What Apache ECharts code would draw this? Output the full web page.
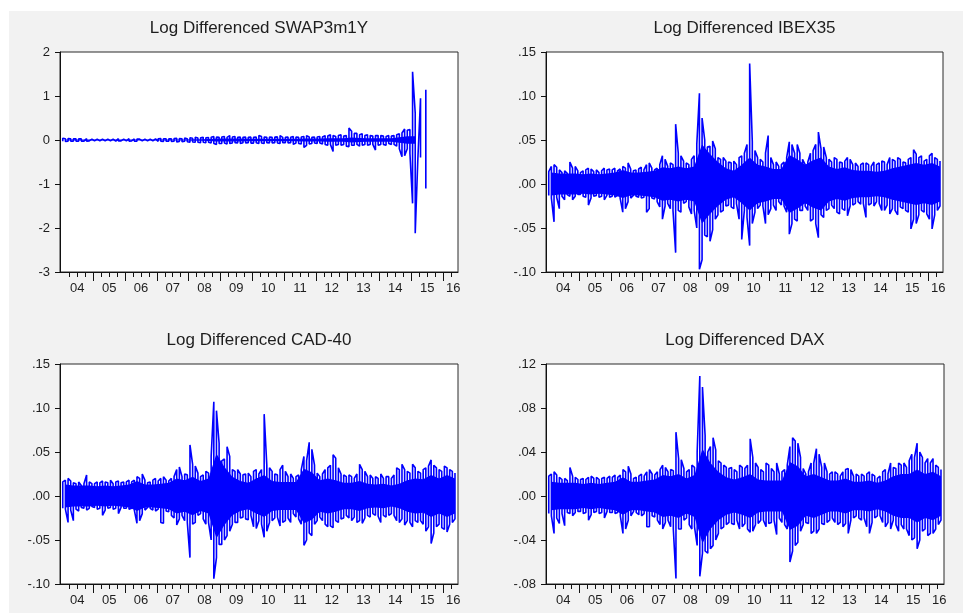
<!DOCTYPE html>
<html>
<head>
<meta charset="UTF-8">
<title>Log Differenced series</title>
<style>
    * {
        margin: 0;
        padding: 0
    }

    #chart {
        width: 963px;
        height: 613px;
    }
</style>
</head>
<body>
<div id="chart"></div>
<script src="https://cdn.jsdelivr.net/npm/echarts@6/dist/echarts.min.js"></script>
<script>
// monthly high / low of the daily log differences, Jan 2004 .. May 2016 (149 months)
// core = quarterly half-width of the dense band, 2004Q1 .. 2016Q2
var swapHi = [
    .04, .03, .035, .03, .025, .03, .03, .025, .02, .03, .025, .02,
    .02, .02, .025, .02, .015, .02, .02, .02, .02, .03, .02, .02,
    .02, .03, .02, .025, .02, .02, .025, .02, .02, .02, .02, .025,
    .03, .035, .03, .03, .025, .03, .035, .04, .035, .03, .045, .03,
    .05, .04, .06, .045, .05, .06, .05, .055, .06, .08, .07, .06,
    .07, .08, .06, .1, .07, .08, .06, .07, .06, .07, .06, .065,
    .06, .07, .1, .08, .07, .06, .07, .06, .065, .07, .1, .06,
    .06, .07, .06, .08, .07, .06, .07, .08, .1, .07, .06, .07,
    .07, .08, .07, .1, .09, .12, .1, .08, .1, .12, .09, .1,
    .27, .2, .15, .15, .12, .14, .1, .12, .1, .09, .1, .1,
    .1, .09, .08, .1, .09, .1, .12, .14, .16, .25, .22, .24,
    1.55, .61, -.38, .95, null, 1.14, null, null, null, null, null, null,
    null, null, null, null, null
];
var swapLo = [
    -.03, -.035, -.03, -.025, -.03, -.025, -.03, -.025, -.025, -.03, -.02, -.025,
    -.02, -.02, -.02, -.025, -.02, -.02, -.02, -.02, -.025, -.02, -.02, -.02,
    -.02, -.025, -.02, -.025, -.03, -.02, -.02, -.025, -.02, -.02, -.02, -.02,
    -.03, -.03, -.035, -.03, -.03, -.035, -.03, -.045, -.035, -.04, -.03, -.04,
    -.05, -.045, -.05, -.05, -.06, -.05, -.06, -.05, -.07, -.08, -.1, -.08,
    -.08, -.07, -.09, -.08, -.07, -.06, -.07, -.08, -.06, -.07, -.06, -.07,
    -.07, -.06, -.08, -.07, -.08, -.06, -.07, -.07, -.06, -.07, -.08, -.06,
    -.06, -.07, -.06, -.1, -.07, -.08, -.09, -.17, -.12, -.09, -.08, -.07,
    -.08, -.07, -.09, -.1, -.12, -.1, -.26, -.12, -.1, -.12, -.1, -.14,
    -.15, -.12, -.12, -.1, -.14, -.12, -.1, -.12, -.1, -.1, -.23, -.12,
    -.1, -.1, -.12, -.08, -.1, -.1, -.14, -.2, -.38, -.36, -.2, -.3,
    -1.44, -2.12, -.42, -.40, null, -1.10, null, null, null, null, null, null,
    null, null, null, null, null
];
var swapCore = [
    .014, .012, .012, .012, .01, .01, .01, .01, .01, .01, .01, .01,
    .012, .012, .014, .014, .018, .018, .022, .032, .032, .032, .032, .03,
    .028, .03, .028, .028, .028, .028, .032, .032, .034, .038, .038, .038,
    .055, .045, .04, .04, .04, .04, .065, .085, .085, null, null, null
];

var ibexHi = [
    .014, .020, .022, .019, .016, .013, .015, .012, .025, .018, .020, .015,
    .013, .015, .016, .018, .017, .014, .016, .013, .015, .018, .016, .017,
    .016, .018, .015, .017, .020, .018, .024, .017, .015, .016, .017, .019,
    .016, .022, .024, .018, .016, .018, .022, .032, .028, .020, .024, .022,
    .068, .035, .032, .026, .024, .022, .028, .032, .045, .103, .075, .050,
    .042, .043, .049, .040, .030, .028, .030, .026, .025, .024, .026, .022,
    .030, .032, .035, .045, .137, .048, .038, .030, .028, .025, .035, .055,
    .030, .022, .025, .020, .022, .025, .030, .048, .045, .035, .045, .035,
    .028, .022, .025, .035, .038, .045, .059, .040, .042, .030, .028, .025,
    .030, .028, .025, .024, .026, .030, .028, .022, .024, .020, .022, .024,
    .024, .022, .020, .025, .022, .024, .026, .025, .022, .030, .028, .026,
    .030, .028, .025, .024, .028, .030, .039, .034, .030, .032, .026, .028,
    .032, .035, .030, .028, .026
];
var ibexLo = [
    -.013, -.016, -.043, -.015, -.028, -.014, -.018, -.012, -.014, -.018, -.014, -.012,
    -.012, -.014, -.015, -.024, -.016, -.014, -.013, -.015, -.014, -.018, -.013, -.015,
    -.014, -.015, -.013, -.016, -.032, -.028, -.020, -.016, -.013, -.014, -.015, -.016,
    -.015, -.032, -.028, -.016, -.017, -.020, -.026, -.040, -.025, -.022, -.028, -.030,
    -.078, -.030, -.032, -.022, -.020, -.026, -.034, -.030, -.050, -.097, -.086, -.058,
    -.060, -.065, -.052, -.040, -.035, -.032, -.030, -.025, -.024, -.026, -.028, -.022,
    -.040, -.063, -.030, -.038, -.070, -.045, -.032, -.028, -.024, -.025, -.045, -.035,
    -.028, -.024, -.030, -.020, -.024, -.025, -.032, -.057, -.045, -.040, -.042, -.030,
    -.030, -.025, -.030, -.042, -.040, -.045, -.061, -.035, -.038, -.030, -.028, -.024,
    -.028, -.032, -.034, -.028, -.030, -.036, -.025, -.024, -.022, -.020, -.023, -.022,
    -.038, -.024, -.022, -.025, -.020, -.022, -.030, -.030, -.024, -.034, -.028, -.030,
    -.035, -.026, -.028, -.030, -.032, -.051, -.040, -.045, -.035, -.030, -.032, -.034,
    -.040, -.051, -.035, -.030, -.025
];
var ibexCore = [
    .013, .012, .012, .012, .011, .012, .011, .012, .013, .016, .013, .013,
    .014, .015, .019, .018, .020, .018, .020, .045, .034, .025, .018, .015,
    .022, .030, .022, .020, .017, .017, .033, .028, .022, .027, .030, .020,
    .017, .019, .016, .015, .015, .014, .015, .018, .020, .022, .024, .022,
    .024, .020
];

var cadHi = [
    .016, .018, .020, .017, .015, .014, .016, .012, .014, .024, .016, .014,
    .014, .016, .015, .017, .016, .015, .018, .014, .016, .017, .015, .016,
    .016, .018, .016, .018, .022, .020, .025, .018, .015, .016, .018, .020,
    .017, .020, .022, .018, .017, .020, .022, .030, .033, .022, .025, .024,
    .058, .036, .034, .026, .022, .024, .028, .026, .045, .107, .097, .060,
    .040, .042, .056, .045, .030, .028, .030, .025, .024, .025, .026, .022,
    .028, .030, .025, .030, .093, .035, .032, .028, .025, .024, .030, .035,
    .028, .022, .025, .020, .022, .024, .030, .045, .040, .061, .053, .035,
    .026, .022, .025, .030, .032, .035, .047, .043, .032, .025, .024, .022,
    .024, .022, .020, .025, .036, .030, .028, .022, .024, .020, .022, .020,
    .025, .020, .022, .022, .020, .024, .032, .030, .036, .030, .028, .026,
    .036, .032, .028, .026, .030, .032, .034, .041, .035, .032, .030, .028,
    .034, .032, .030, .028, .026
];
var cadLo = [
    -.014, -.015, -.030, -.016, -.028, -.015, -.017, -.013, -.014, -.016, -.014, -.012,
    -.013, -.015, -.014, -.022, -.016, -.014, -.013, -.015, -.014, -.020, -.013, -.014,
    -.014, -.015, -.014, -.016, -.031, -.028, -.020, -.016, -.013, -.014, -.016, -.017,
    -.015, -.030, -.031, -.017, -.018, -.022, -.025, -.033, -.026, -.022, -.028, -.030,
    -.070, -.032, -.030, -.022, -.020, -.026, -.032, -.030, -.050, -.094, -.070, -.055,
    -.055, -.050, -.045, -.040, -.032, -.030, -.030, -.025, -.024, -.026, -.027, -.022,
    -.035, -.037, -.028, -.032, -.047, -.040, -.030, -.028, -.025, -.024, -.034, -.030,
    -.028, -.025, -.030, -.020, -.024, -.026, -.032, -.056, -.050, -.042, -.045, -.032,
    -.028, -.024, -.028, -.032, -.035, -.034, -.036, -.028, -.030, -.026, -.025, -.022,
    -.025, -.028, -.024, -.030, -.028, -.031, -.025, -.022, -.024, -.020, -.022, -.023,
    -.030, -.022, -.024, -.022, -.020, -.022, -.028, -.030, -.026, -.033, -.028, -.030,
    -.035, -.028, -.030, -.028, -.032, -.040, -.035, -.054, -.042, -.035, -.032, -.036,
    -.038, -.041, -.032, -.030, -.026
];
var cadCore = [
    .013, .012, .012, .012, .011, .012, .011, .012, .013, .017, .013, .013,
    .014, .015, .020, .018, .022, .017, .020, .048, .033, .022, .017, .015,
    .020, .024, .017, .016, .016, .016, .031, .027, .018, .020, .018, .015,
    .015, .017, .014, .013, .014, .012, .014, .018, .020, .019, .024, .020,
    .024, .020
];

var daxHi = [
    .018, .020, .022, .019, .017, .015, .016, .014, .026, .018, .017, .015,
    .015, .016, .015, .017, .018, .016, .017, .015, .016, .017, .016, .018,
    .017, .019, .017, .019, .024, .022, .027, .020, .016, .017, .018, .020,
    .018, .022, .024, .020, .019, .022, .024, .028, .026, .022, .024, .023,
    .058, .034, .033, .025, .022, .024, .028, .026, .040, .109, .099, .055,
    .040, .045, .053, .042, .032, .030, .028, .026, .025, .026, .024, .022,
    .028, .026, .025, .028, .052, .035, .030, .026, .024, .022, .030, .028,
    .025, .022, .030, .020, .022, .024, .028, .045, .053, .050, .048, .035,
    .025, .020, .022, .030, .030, .043, .038, .026, .030, .022, .020, .022,
    .022, .020, .018, .022, .024, .025, .024, .018, .020, .018, .020, .018,
    .020, .022, .020, .018, .016, .018, .022, .024, .020, .030, .026, .025,
    .030, .028, .030, .026, .032, .038, .035, .048, .040, .035, .030, .034,
    .030, .034, .028, .026, .024
];
var daxLo = [
    -.016, -.018, -.034, -.020, -.025, -.016, -.027, -.015, -.016, -.018, -.015, -.014,
    -.014, -.016, -.015, -.022, -.017, -.015, -.014, -.016, -.015, -.020, -.014, -.015,
    -.015, -.016, -.015, -.018, -.034, -.030, -.022, -.018, -.014, -.015, -.017, -.018,
    -.016, -.028, -.028, -.018, -.019, -.022, -.026, -.030, -.024, -.022, -.028, -.030,
    -.075, -.030, -.030, -.022, -.020, -.026, -.030, -.028, -.045, -.073, -.052, -.050,
    -.052, -.048, -.045, -.040, -.034, -.030, -.028, -.026, -.024, -.025, -.026, -.022,
    -.030, -.028, -.025, -.030, -.033, -.032, -.026, -.025, -.022, -.022, -.028, -.025,
    -.024, -.022, -.035, -.020, -.024, -.026, -.030, -.060, -.050, -.045, -.042, -.032,
    -.026, -.024, -.025, -.034, -.032, -.034, -.030, -.025, -.026, -.024, -.022, -.020,
    -.024, -.026, -.024, -.028, -.025, -.034, -.022, -.020, -.018, -.020, -.022, -.020,
    -.028, -.034, -.024, -.020, -.018, -.018, -.024, -.028, -.024, -.030, -.022, -.026,
    -.032, -.026, -.030, -.030, -.036, -.040, -.038, -.048, -.040, -.032, -.030, -.036,
    -.034, -.034, -.030, -.026, -.022
];
var daxCore = [
    .013, .012, .012, .012, .011, .012, .011, .012, .013, .017, .013, .013,
    .014, .015, .019, .018, .020, .016, .019, .043, .030, .022, .017, .015,
    .017, .020, .015, .014, .014, .014, .031, .027, .018, .020, .017, .014,
    .014, .016, .013, .013, .014, .012, .014, .018, .020, .020, .024, .020,
    .022, .018
];

var yearTicks = [2005, 2006, 2007, 2008, 2009, 2010, 2011, 2012, 2013, 2014, 2015, 2016];
var yearLabelPos = [2004.5, 2005.5, 2006.5, 2007.5, 2008.5, 2009.5, 2010.5, 2011.5,
    2012.5, 2013.5, 2014.5, 2015.5, 2016.32];

var X_MIN = 2003.955, X_MAX = 2016.47;
var BLUE = '#0000ff';
var INK = '#1e1e1e';
var AXIS = '#111';
var FONT = '"Liberation Sans", Arial, sans-serif';

var panels = [
    {title: 'Log Differenced SWAP3m1Y', hi: swapHi, lo: swapLo, core: swapCore,
        rect: {left: 60, top: 52, width: 398, height: 220}, yMin: -3, yMax: 2, step: 1, dec: 0},
    {title: 'Log Differenced IBEX35', hi: ibexHi, lo: ibexLo, core: ibexCore,
        rect: {left: 546, top: 52, width: 397, height: 220}, yMin: -0.10, yMax: 0.15, step: 0.05, dec: 2},
    {title: 'Log Differenced CAD-40', hi: cadHi, lo: cadLo, core: cadCore,
        rect: {left: 60, top: 364, width: 398, height: 220}, yMin: -0.10, yMax: 0.15, step: 0.05, dec: 2},
    {title: 'Log Differenced DAX', hi: daxHi, lo: daxLo, core: daxCore,
        rect: {left: 546, top: 364, width: 398, height: 220}, yMin: -0.08, yMax: 0.12, step: 0.04, dec: 2}
];

// quarter ticks between the year ticks
var quarterTicks = [];
for (var y = 2004; y <= 2016; y++) {
    for (var k = 1; k < 4; k++) {
        if (y + k / 4 < X_MAX) quarterTicks.push(y + k / 4);
    }
}

function monthX(i) {
    return 2004 + (i + 0.5) / 12;
}

// vertical stroke per month from low to high, alternating direction so the path stays on the envelope
function zigzag(hi, lo) {
    var pts = [];
    for (var i = 0; i < hi.length; i++) {
        var x = monthX(i);
        if (hi[i] == null) {
            pts.push([x, null]);
            continue;
        }
        if (i % 2 === 0) {
            pts.push([x, lo[i]], [x, hi[i]]);
        } else {
            pts.push([x, hi[i]], [x, lo[i]]);
        }
    }
    return pts;
}

function coreBand(core, sign) {
    return core.map(function (a, q) {
        return [2004 + (q + 0.5) / 4, a == null ? null : sign * a];
    });
}

function yFormatter(dec) {
    return function (v) {
        var s = v.toFixed(dec);
        return dec ? s.replace('0.', '.') : s;
    };
}

function xAxisBase(i) {
    return {
        type: 'value', gridIndex: i, min: X_MIN, max: X_MAX, position: 'bottom',
        axisLine: {show: false, onZero: false},
        axisTick: {show: false},
        axisLabel: {show: false},
        splitLine: {show: false}
    };
}

var option = {
    animation: false,
    backgroundColor: '#f2f2f2',
    graphic: [
        {type: 'rect', shape: {x: 0, y: 0, width: 963, height: 11}, style: {fill: '#fff'}, silent: true},
        {type: 'rect', shape: {x: 0, y: 0, width: 9, height: 613}, style: {fill: '#fff'}, silent: true}
    ],
    grid: [],
    xAxis: [],
    yAxis: [],
    series: []
};

panels.forEach(function (p, i) {
    option.grid.push({
        left: p.rect.left, top: p.rect.top, width: p.rect.width, height: p.rect.height,
        show: true, backgroundColor: '#fff', borderColor: '#2a2a2a', borderWidth: 1
    });
    option.graphic.push({
        type: 'text',
        x: p.rect.left + p.rect.width / 2,
        y: p.rect.top - 24,
        style: {
            text: p.title, fill: INK, fontSize: 17, fontFamily: FONT,
            align: 'center', verticalAlign: 'middle'
        },
        silent: true
    });
    // three x axes on the same line: data + quarter ticks, year ticks, centred year labels
    var xq = xAxisBase(i);
    xq.axisLine = {show: true, onZero: false, lineStyle: {color: AXIS}};
    xq.axisTick = {show: true, customValues: quarterTicks, length: 5, lineStyle: {color: AXIS}};
    var xy = xAxisBase(i);
    xy.axisTick = {show: true, customValues: yearTicks, length: 9, lineStyle: {color: AXIS}};
    var xl = xAxisBase(i);
    xl.axisLabel = {
        show: true, customValues: yearLabelPos, margin: 10, color: INK, fontSize: 13, fontFamily: FONT,
        formatter: function (v) {
            var yy = Math.floor(v) % 100;
            return (yy < 10 ? '0' : '') + yy;
        }
    };
    option.xAxis.push(xq, xy, xl);

    option.yAxis.push({
        type: 'value', gridIndex: i, min: p.yMin, max: p.yMax, interval: p.step,
        axisLine: {show: true, onZero: false, lineStyle: {color: AXIS}},
        axisTick: {show: true, length: 5, lineStyle: {color: AXIS}},
        axisLabel: {margin: 10, color: INK, fontSize: 13, fontFamily: FONT, formatter: yFormatter(p.dec)},
        splitLine: {show: false}
    });
    [1, -1].forEach(function (sign) {
        option.series.push({
            type: 'line', xAxisIndex: 3 * i, yAxisIndex: i,
            data: coreBand(p.core, sign),
            symbol: 'none', silent: true,
            lineStyle: {width: 0},
            areaStyle: {color: BLUE, opacity: 1}
        });
    });
    option.series.push({
        type: 'line', xAxisIndex: 3 * i, yAxisIndex: i,
        data: zigzag(p.hi, p.lo),
        symbol: 'none', silent: true,
        lineStyle: {color: BLUE, width: 1.6}
    });
});

var chart = echarts.init(document.getElementById('chart'));
chart.setOption(option);
</script>
</body>
</html>
